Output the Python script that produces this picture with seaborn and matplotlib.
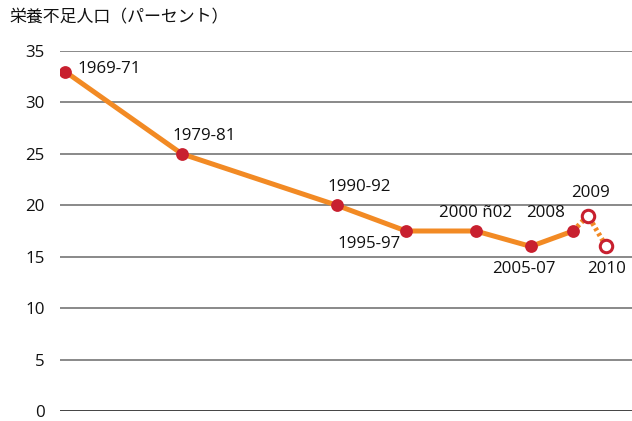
import matplotlib
matplotlib.use("Agg")
import matplotlib.pyplot as plt
import numpy as np
import pandas as pd
import seaborn as sns

# data
periods = ["1969-71", "1979-81", "1990-92", "1995-97", "2000 ñ02", "2005-07", "2008", "2009", "2010"]
x_pos = [0.9, 21.3, 48.4, 60.5, 72.7, 82.3, 89.7, 92.3, 95.5]
values = [33.0, 25.0, 20.0, 17.5, 17.5, 16.0, 17.5, 19.0, 16.0]
estimate = [False, False, False, False, False, False, False, True, True]
y_ticks = [0, 5, 10, 15, 20, 25, 30, 35]
title = "栄養不足人口（パーセント）"

df = pd.DataFrame({"period": periods, "x": x_pos, "value": values, "estimate": estimate})

sns.set_theme(style="white")
plt.rcParams["font.family"] = ["Open Sans", "Noto Sans CJK JP", "DejaVu Sans"]

orange = "#F28A24"
red = "#C8202F"
fs = 12.2

fig = plt.figure(figsize=(6.32, 4.21), dpi=100)
ax = fig.add_axes([60 / 632, 10 / 421, 572 / 632, 360 / 421])

for t in y_ticks:
    ax.axhline(t, color="#111111" if t == 0 else "#6a6a6a", lw=1.1, zorder=1)

solid = df[~df["estimate"]]
sns.lineplot(data=solid, x="x", y="value", color=orange, lw=3.6, sort=False,
             ax=ax, zorder=2)
last = df.iloc[6:]
ax.plot(last["x"], last["value"], color=orange, lw=3.6, ls=(0, (0.6, 0.6)), zorder=2)

sns.scatterplot(data=solid, x="x", y="value", color=red, s=85, edgecolor=red,
                linewidth=0, ax=ax, zorder=3)
sns.scatterplot(data=df[df["estimate"]], x="x", y="value", color="white", s=80,
                edgecolor=red, linewidth=2.2, ax=ax, zorder=3)

# label offsets in points
offsets = {
    "1969-71": (8.5, 2, "left"),
    "1979-81": (-7, 13, "left"),
    "1990-92": (-7, 13, "left"),
    "1995-97": (-4, -9.5, "right"),
    "2000 ñ02": (0, 13, "center"),
    "2005-07": (-5, -16.5, "center"),
    "2008": (-5.5, 13, "right"),
    "2009": (1.5, 16.5, "center"),
    "2010": (0, -16, "center"),
}
for _, row in df.iterrows():
    dx, dy, ha = offsets[row["period"]]
    ax.annotate(row["period"], (row["x"], row["value"]), xytext=(dx, dy),
                textcoords="offset points", ha=ha, va="center", fontsize=fs,
                color="#111111")

ax.set_xlim(0, 100)
ax.set_ylim(0, 35)
ax.set_yticks(y_ticks)
ax.set_yticklabels([str(t) for t in y_ticks], fontsize=fs, color="#111111")
ax.tick_params(axis="y", length=0, pad=11)
ax.set_xticks([])
ax.set_xlabel("")
ax.set_ylabel("")
for s in ax.spines.values():
    s.set_visible(False)
ax.patch.set_alpha(0)

fig.text(10 / 632, 1 - 17 / 421, title, fontsize=fs, va="center", ha="left",
         color="#111111", family=["Noto Sans CJK JP", "DejaVu Sans"])

fig.savefig("out.png", dpi=100)
